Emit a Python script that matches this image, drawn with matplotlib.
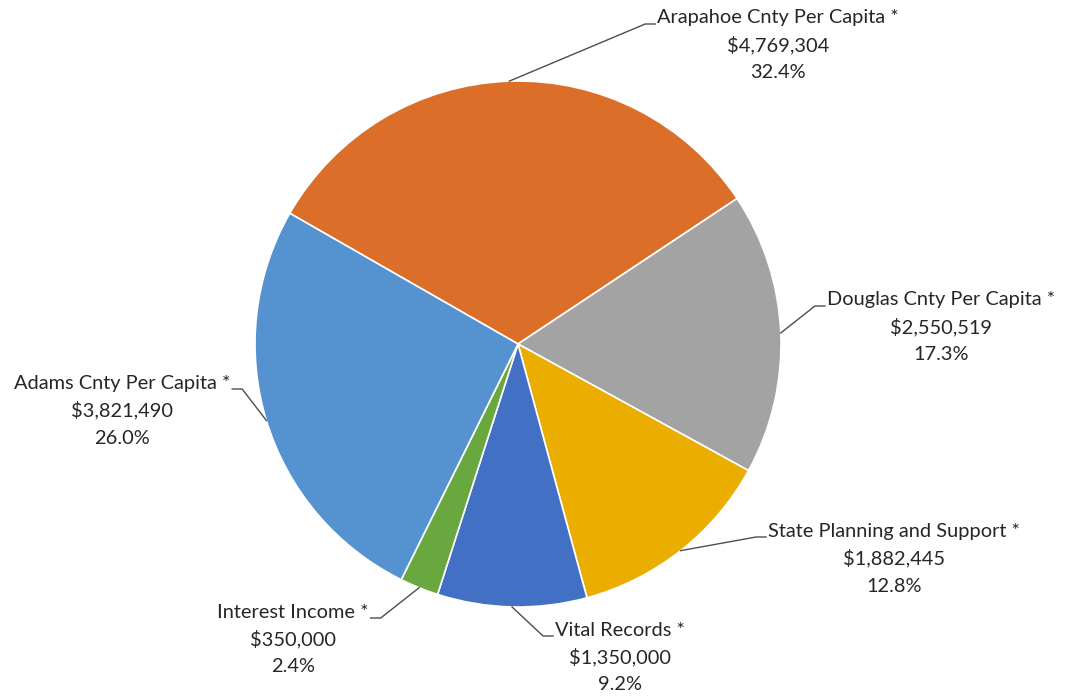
import numpy as np
import matplotlib.pyplot as plt

# data, in clockwise order starting from the top-left boundary
categories = ["Arapahoe Cnty Per Capita *", "Douglas Cnty Per Capita *",
              "State Planning and Support *", "Vital Records *",
              "Interest Income *", "Adams Cnty Per Capita *"]
amounts = [4769304, 2550519, 1882445, 1350000, 350000, 3821490]
colors = ["#DB6F2A", "#A3A3A3", "#EAAD00", "#4170C4", "#69A83F", "#5592D0"]

# label layout in pixels (x center, y of first line, top origin), side of leader
label_pos = [(778, 18, "left"), (941, 300, "left"), (894, 531, "left"),
             (620, 630, "left"), (293, 612, "right"), (122, 383, "right")]

W, H = 1066, 698
fig = plt.figure(figsize=(W / 100, H / 100), dpi=100)
ax = fig.add_axes([0, 0, 1, 1])

cx, cy, r = 518, H - 344, 263
wedges, _ = ax.pie(amounts, colors=colors, startangle=150.2, counterclock=False,
                   center=(cx, cy), radius=r, frame=True,
                   wedgeprops=dict(edgecolor="white", linewidth=1.2))
ax.set_xlim(0, W)
ax.set_ylim(0, H)
ax.set_aspect("equal")
ax.axis("off")

total = sum(amounts)
font = dict(family="Lato", fontsize=14.4, color="#262626")
pitch = 27.5
first_lines = []
for cat, amt, (lx, ly, side) in zip(categories, amounts, label_pos):
    lines = [cat, f"${amt:,}", f"{100 * amt / total:.1f}%"]
    for i, s in enumerate(lines):
        t = ax.text(lx, H - (ly + i * pitch), s, ha="center", va="center", **font)
        if i == 0:
            first_lines.append(t)

fig.canvas.draw()
inv = ax.transData.inverted()
for w, t, (lx, ly, side) in zip(wedges, first_lines, label_pos):
    mid = np.deg2rad((w.theta1 + w.theta2) / 2)
    x0, y0 = cx + r * np.cos(mid), cy + r * np.sin(mid)
    bb = t.get_window_extent().transformed(inv)
    yl = H - (ly + 6)
    if side == "left":
        xe = bb.x0 - 2
        xb = xe - 10
    else:
        xe = bb.x1 + 2
        xb = xe + 10
    ax.plot([x0, xb, xe], [y0, yl, yl], color="#4d4d4d", lw=1)

fig.savefig("out.png", dpi=100)
